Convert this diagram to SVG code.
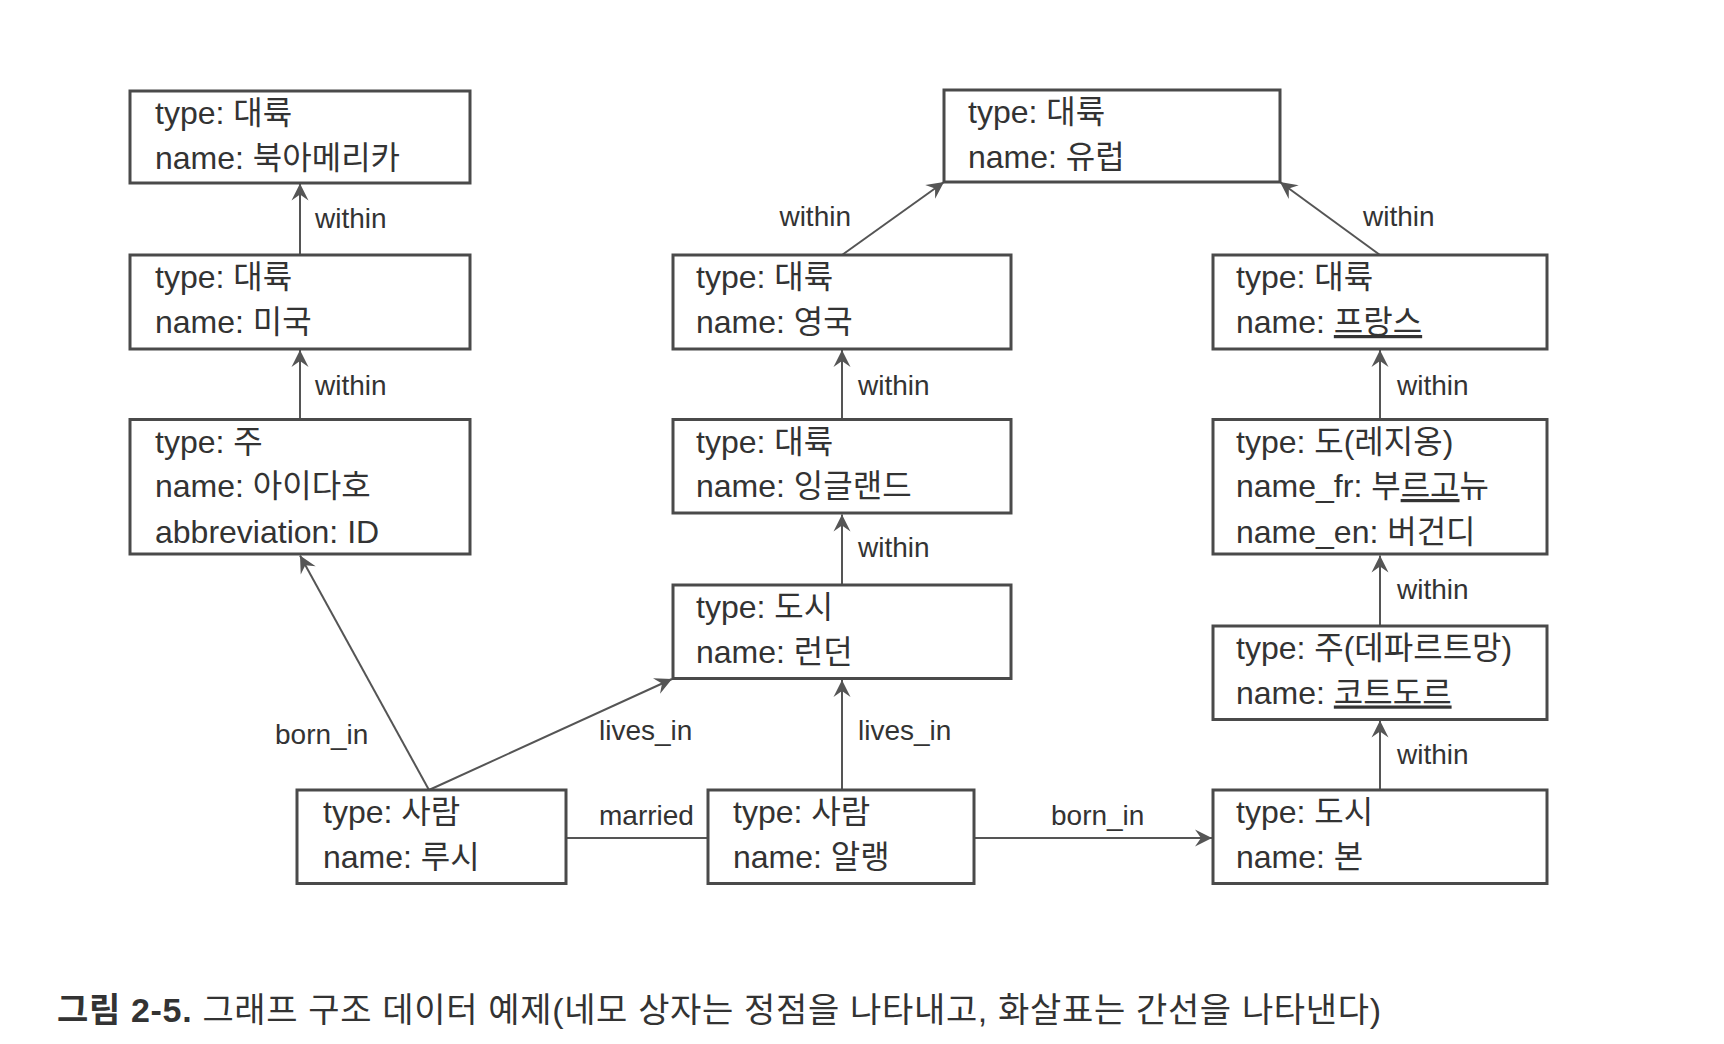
<svg xmlns="http://www.w3.org/2000/svg" width="1724" height="1044" viewBox="0 0 1724 1044">
<style>
.box{fill:#fff;stroke:#4a4a4a;stroke-width:3}
.t{font-family:"Liberation Sans","Noto Sans CJK KR",sans-serif;font-size:32px;fill:#333}
.lbl{font-family:"Liberation Sans","Noto Sans CJK KR",sans-serif;font-size:28px;fill:#333}
.edge{stroke:#555;stroke-width:2;fill:none}
.cap{font-family:"Liberation Sans","Noto Sans CJK KR",sans-serif;font-size:34px;fill:#333}
.u{text-decoration:underline}
</style>
<defs>
<marker id="arr" viewBox="-19 -10 21 20" refX="0" refY="0" markerWidth="21" markerHeight="20" markerUnits="userSpaceOnUse" orient="auto">
<path d="M0,0 L-17,-8.5 L-11,0 L-17,8.5 z" fill="#555"/>
</marker>
</defs>
<rect width="1724" height="1044" fill="#fff"/>

<g id="connectors">
<line class="edge" x1="300" y1="255" x2="300" y2="183.5" marker-end="url(#arr)"/>
<line class="edge" x1="300" y1="419.5" x2="300" y2="350" marker-end="url(#arr)"/>
<line class="edge" x1="842" y1="255" x2="944" y2="182" marker-end="url(#arr)"/>
<line class="edge" x1="1380" y1="255" x2="1280" y2="182" marker-end="url(#arr)"/>
<line class="edge" x1="842" y1="419.5" x2="842" y2="350" marker-end="url(#arr)"/>
<line class="edge" x1="842" y1="585" x2="842" y2="514.5" marker-end="url(#arr)"/>
<line class="edge" x1="1380" y1="419.5" x2="1380" y2="350" marker-end="url(#arr)"/>
<line class="edge" x1="1380" y1="626" x2="1380" y2="555.5" marker-end="url(#arr)"/>
<line class="edge" x1="1380" y1="790" x2="1380" y2="720.5" marker-end="url(#arr)"/>
<line class="edge" x1="429" y1="790" x2="300" y2="555.5" marker-end="url(#arr)"/>
<line class="edge" x1="429" y1="790" x2="672" y2="679" marker-end="url(#arr)"/>
<line class="edge" x1="842" y1="790" x2="842" y2="680" marker-end="url(#arr)"/>
<line class="edge" x1="566" y1="838" x2="708" y2="838"/>
<line class="edge" x1="974" y1="838" x2="1212" y2="838" marker-end="url(#arr)"/>
<text class="lbl" x="315" y="228">within</text>
<text class="lbl" x="315" y="395">within</text>
<text class="lbl" x="851" y="226" text-anchor="end">within</text>
<text class="lbl" x="1363" y="226">within</text>
<text class="lbl" x="858" y="395">within</text>
<text class="lbl" x="858" y="557">within</text>
<text class="lbl" x="1397" y="395">within</text>
<text class="lbl" x="1397" y="599">within</text>
<text class="lbl" x="1397" y="764">within</text>
<text class="lbl" x="275" y="744">born_in</text>
<text class="lbl" x="599" y="740">lives_in</text>
<text class="lbl" x="858" y="740">lives_in</text>
<text class="lbl" x="599" y="825">married</text>
<text class="lbl" x="1051" y="825">born_in</text>
</g>

<g id="n-northamerica">
<rect class="box" x="130" y="91" width="340" height="92"/>
<text class="t" x="155" y="124">type: 대륙</text>
<text class="t" x="155" y="169">name: 북아메리카</text>
</g>
<g id="n-usa">
<rect class="box" x="130" y="255" width="340" height="94"/>
<text class="t" x="155" y="288">type: 대륙</text>
<text class="t" x="155" y="333">name: 미국</text>
</g>
<g id="n-idaho">
<rect class="box" x="130" y="419.5" width="340" height="134.5"/>
<text class="t" x="155" y="452.5">type: 주</text>
<text class="t" x="155" y="497">name: 아이다호</text>
<text class="t" x="155" y="543">abbreviation: ID</text>
</g>
<g id="n-europe">
<rect class="box" x="944" y="90" width="336" height="92"/>
<text class="t" x="968" y="123">type: 대륙</text>
<text class="t" x="968" y="168">name: 유럽</text>
</g>
<g id="n-uk">
<rect class="box" x="673" y="255" width="338" height="94"/>
<text class="t" x="696" y="288">type: 대륙</text>
<text class="t" x="696" y="333">name: 영국</text>
</g>
<g id="n-england">
<rect class="box" x="673" y="419.5" width="338" height="93.5"/>
<text class="t" x="696" y="452.5">type: 대륙</text>
<text class="t" x="696" y="497">name: 잉글랜드</text>
</g>
<g id="n-london">
<rect class="box" x="673" y="585" width="338" height="93.5"/>
<text class="t" x="696" y="618">type: 도시</text>
<text class="t" x="696" y="662.5">name: 런던</text>
</g>
<g id="n-france">
<rect class="box" x="1213" y="255" width="334" height="94"/>
<text class="t" x="1236" y="288">type: 대륙</text>
<text class="t" x="1236" y="333">name: <tspan class="u">프랑스</tspan></text>
</g>
<g id="n-burgundy">
<rect class="box" x="1213" y="419.5" width="334" height="134.5"/>
<text class="t" x="1236" y="452.5">type: 도(레지옹)</text>
<text class="t" x="1236" y="497">name_fr: 부<tspan class="u">르고</tspan>뉴</text>
<text class="t" x="1236" y="543">name_en: 버건디</text>
</g>
<g id="n-cotedor">
<rect class="box" x="1213" y="626" width="334" height="93.5"/>
<text class="t" x="1236" y="658.5">type: 주(데파르트망)</text>
<text class="t" x="1236" y="703.5">name: <tspan class="u">코트도르</tspan></text>
</g>
<g id="n-beaune">
<rect class="box" x="1213" y="790" width="334" height="93.5"/>
<text class="t" x="1236" y="823">type: 도시</text>
<text class="t" x="1236" y="868">name: 본</text>
</g>
<g id="n-lucy">
<rect class="box" x="297" y="790" width="269" height="93.5"/>
<text class="t" x="323" y="823">type: 사람</text>
<text class="t" x="323" y="868">name: 루시</text>
</g>
<g id="n-alain">
<rect class="box" x="708" y="790" width="266" height="93.5"/>
<text class="t" x="733" y="823">type: 사람</text>
<text class="t" x="733" y="868">name: 알랭</text>
</g>

<g id="caption">
<text class="cap" x="57" y="1022" textLength="1324" lengthAdjust="spacing"><tspan font-weight="bold">그림 2-5.</tspan> 그래프 구조 데이터 예제(네모 상자는 정점을 나타내고, 화살표는 간선을 나타낸다)</text>
</g>
</svg>
